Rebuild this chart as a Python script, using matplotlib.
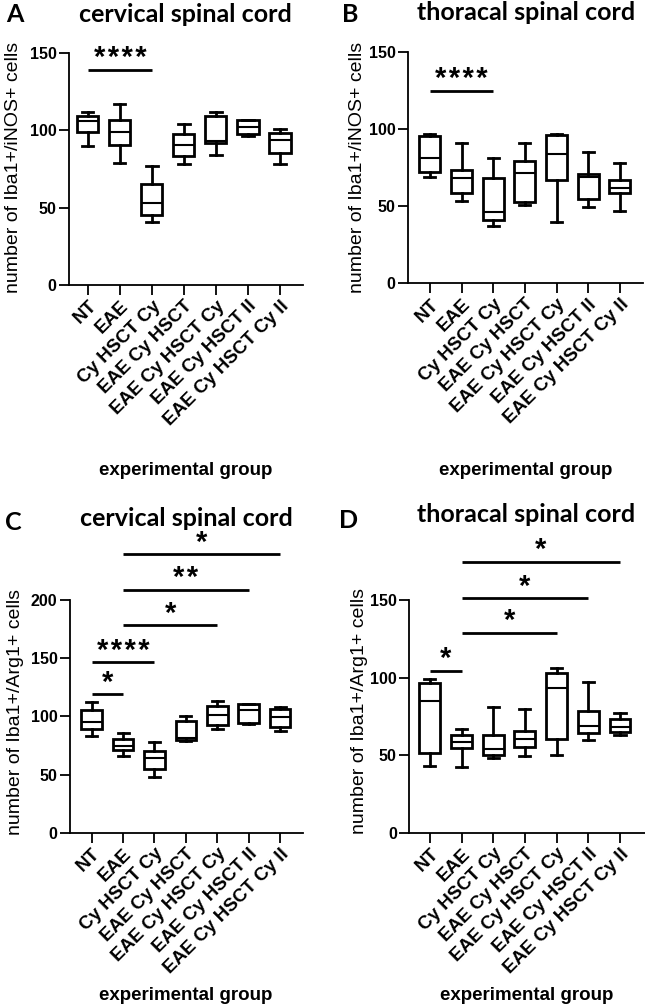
import matplotlib
matplotlib.use("Agg")
import matplotlib.pyplot as plt

groups = ["NT", "EAE", "Cy HSCT Cy", "EAE Cy HSCT", "EAE Cy HSCT Cy",
          "EAE Cy HSCT II", "EAE Cy HSCT Cy II"]

# A: Iba1+/iNOS+, cervical
a_whislo = [90, 79, 41, 78, 84, 96, 78]
a_q1 = [99, 90.5, 45, 83.5, 92, 97.5, 85.5]
a_med = [106, 98.5, 53, 90.5, 93, 102, 93.5]
a_q3 = [109, 106.5, 65, 97.5, 109, 106.5, 98]
a_whishi = [112, 117, 77, 104, 112, 106.5, 100.5]
a_sig_pairs = [(0, 2)]
a_sig_y = [139]
a_sig_txt = ["****"]

# B: Iba1+/iNOS+, thoracal
b_whislo = [69, 53, 37, 50.7, 40, 49.6, 47]
b_q1 = [72.3, 58.3, 41, 52.4, 67, 54.4, 58.7]
b_med = [81, 68, 46.4, 71.7, 83.5, 69, 61.5]
b_q3 = [95.4, 73.4, 68, 79, 96, 71, 67]
b_whishi = [97, 90.7, 81, 91, 97, 85, 78]
b_sig_pairs = [(0, 2)]
b_sig_y = [124.8]
b_sig_txt = ["****"]

# C: Iba1+/Arg1+, cervical
c_whislo = [83.4, 66, 48, 78.8, 88.9, 93.4, 87.7]
c_q1 = [88.8, 71, 54.4, 79.7, 92.6, 94, 91]
c_med = [95.4, 74.5, 63.9, 81.4, 101, 105.5, 99.7]
c_q3 = [105.4, 80.2, 70.5, 96.3, 109, 110.6, 106]
c_whishi = [112, 85.4, 77.7, 100.3, 113, 110.6, 108.3]
c_sig_pairs = [(0, 1), (0, 2), (1, 4), (1, 5), (1, 6)]
c_sig_y = [119, 146.4, 178.5, 209, 239.5]
c_sig_txt = ["*", "****", "*", "**", "*"]

# D: Iba1+/Arg1+, thoracal
d_whislo = [43.2, 42.6, 48, 49.4, 50, 59.7, 63]
d_q1 = [51.6, 54.4, 50, 55.4, 60.2, 64, 64.7]
d_med = [84.7, 58.7, 53.7, 60.2, 93.5, 69, 68.3]
d_q3 = [96.7, 63, 63, 65.8, 103, 78.7, 73]
d_whishi = [98.9, 66.6, 80.8, 79.5, 106, 97.4, 77]
d_sig_pairs = [(0, 1), (1, 4), (1, 5), (1, 6)]
d_sig_y = [104.4, 129, 151, 174.7]
d_sig_txt = ["*", "*", "*", "*"]

W, H = 645, 1007
fig = plt.figure(figsize=(W / 100, H / 100), dpi=100)

ARIAL = ["Liberation Sans", "DejaVu Sans"]
TITLE = ["Lato", "Liberation Sans"]


def px(x, y):
    return x / W, 1 - y / H


def add_ax(left, right, top, bottom):
    return fig.add_axes([left / W, 1 - bottom / H, (right - left) / W, (bottom - top) / H])


def panel(ax, whislo, q1, med, q3, whishi, pairs, sig_y, sig_txt, ymax, xlim):
    stats = [dict(whislo=a, q1=b, med=c, q3=d, whishi=e, fliers=[])
             for a, b, c, d, e in zip(whislo, q1, med, q3, whishi)]
    ax.bxp(stats, positions=range(len(groups)), widths=0.66, capwidths=0.35,
           showfliers=False, patch_artist=True,
           boxprops=dict(facecolor="white", edgecolor="black", linewidth=2),
           whiskerprops=dict(color="black", linewidth=2),
           capprops=dict(color="black", linewidth=2),
           medianprops=dict(color="black", linewidth=1.5))
    for (i, j), y, t in zip(pairs, sig_y, sig_txt):
        ax.plot([i, j], [y, y], color="black", lw=2, clip_on=False, solid_capstyle="butt")
        ax.annotate("\u200a".join(t), xy=((i + j) / 2, y), xytext=(0, 2.5),
                    textcoords="offset points", ha="center", va="baseline",
                    fontsize=21, fontweight="bold", family=ARIAL, annotation_clip=False)
    ax.set_ylim(0, ymax)
    ax.set_yticks(range(0, ymax + 1, 50))
    ax.set_xlim(*xlim)
    ax.set_xticks(range(len(groups)))
    ax.set_xticklabels(groups, rotation=45, ha="right", va="top",
                       rotation_mode="anchor", fontsize=13.5, fontweight="bold",
                       family=ARIAL)
    for lab in ax.get_yticklabels():
        lab.set_fontsize(11.5)
        lab.set_fontweight("bold")
        lab.set_family(ARIAL)
    for s in ["top", "right"]:
        ax.spines[s].set_visible(False)
    for s in ["left", "bottom"]:
        ax.spines[s].set_linewidth(1.3)
    ax.tick_params(length=7, width=1.3, pad=2)


ax_a = add_ax(69, 303, 52.7, 285)
panel(ax_a, a_whislo, a_q1, a_med, a_q3, a_whishi, a_sig_pairs, a_sig_y, a_sig_txt,
      150, (-0.59, 6.72))
ax_b = add_ax(408, 643, 51.7, 283.3)
panel(ax_b, b_whislo, b_q1, b_med, b_q3, b_whishi, b_sig_pairs, b_sig_y, b_sig_txt,
      150, (-0.69, 6.73))
ax_c = add_ax(70, 303, 600, 832.7)
panel(ax_c, c_whislo, c_q1, c_med, c_q3, c_whishi, c_sig_pairs, c_sig_y, c_sig_txt,
      200, (-0.69, 6.73))
ax_d = add_ax(409.3, 645, 600, 832.7)
panel(ax_d, d_whislo, d_q1, d_med, d_q3, d_whishi, d_sig_pairs, d_sig_y, d_sig_txt,
      150, (-0.65, 6.79))

# titles, panel letters, axis labels
for (x, y), t in zip([(185, 14), (526, 13), (186, 518), (526, 515)],
                     ["cervical spinal cord", "thoracal spinal cord",
                      "cervical spinal cord", "thoracal spinal cord"]):
    fig.text(*px(x, y), t, ha="center", va="center", fontsize=18, fontweight="bold", family=TITLE)
for (x, y), t in zip([(15, 15), (350, 15), (13, 522), (349, 520)], "ABCD"):
    fig.text(*px(x, y), t, ha="center", va="center", fontsize=18, fontweight="bold", family=TITLE)
for (x, y), t in zip([(14, 167), (357, 167), (15.5, 712), (359, 711)],
                     ["number of Iba1+/iNOS+ cells", "number of Iba1+/iNOS+ cells",
                      "number of Iba1+/Arg1+ cells", "number of Iba1+/Arg1+ cells"]):
    fig.text(*px(x, y), t, ha="center", va="center", rotation=90, fontsize=14, family=ARIAL)
for x, y in [(186, 470), (526, 470), (186, 995), (527, 995)]:
    fig.text(*px(x, y), "experimental group", ha="center", va="center",
             fontsize=13.5, fontweight="bold", family=ARIAL)

fig.savefig("out.png", dpi=100)
